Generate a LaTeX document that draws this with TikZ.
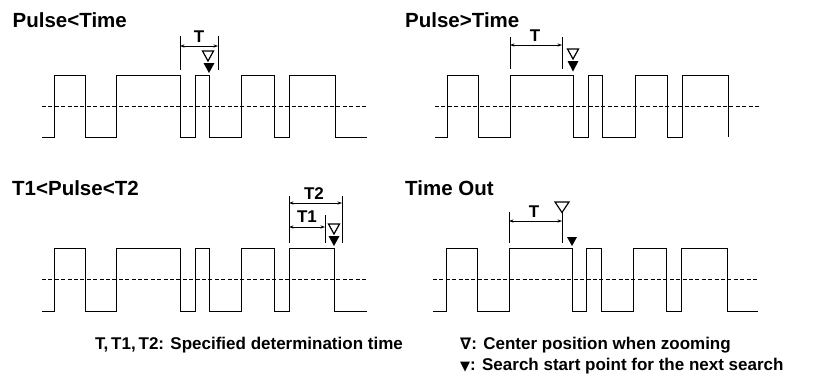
\documentclass[tikz,border=0pt]{standalone}
\usepackage{fontspec}
\setmainfont{Liberation Sans}
\newfontfamily\symfont{DejaVu Sans}
\usetikzlibrary{arrows.meta}
\begin{document}
\begin{tikzpicture}[x=1pt,y=-1pt,
  wave/.style={line width=1.0pt, line join=miter},
  thresh/.style={line width=0.9pt, dash pattern=on 4pt off 2.4pt},
  tickline/.style={line width=0.9pt},
  dim/.style={line width=0.8pt, {Stealth[length=4.5pt,width=3.2pt]}-{Stealth[length=4.5pt,width=3.2pt]}},
  hollowtri/.style={line width=1.2pt, fill=white, draw=black, line join=miter},
  filltri/.style={fill=black},
  title/.style={anchor=base west, inner sep=0pt, font=\fontsize{20.5}{24}\selectfont\bfseries},
  lab/.style={anchor=base, inner sep=0pt, font=\fontsize{17}{20}\selectfont\bfseries},
  legend/.style={anchor=base west, inner sep=0pt, font=\fontsize{17}{20}\selectfont\bfseries}
]
\path[use as bounding box] (0,0) rectangle (815,378);

% ---------- titles ----------
\node[title] (t1) at (12.5,27) {Pulse<Time};
\node[title] (t2) at (405,27) {Pulse>Time};
\node[title] (t3) at (12,195) {T1<Pulse<T2};
\node[title] (t4) at (405,195) {Time Out};

% ---------- panel 1 : Pulse<Time ----------
\draw[thresh] (42,106) -- (367,106);
\draw[wave] (42,137) -| (54,75) -| (85,137) -| (116,75) -| (180,137) -| (195,75)
  -| (209,137) -| (241,75) -| (274,137) -| (289,75) -| (335,137) -- (367,137);
\coordinate (a1) at (180,46);
\coordinate (b1) at (218,46);
\draw[tickline] (180,36) -- (180,70);
\draw[tickline] (218,36) -- (218,70);
\draw[dim] (a1) -- (b1);
\node[lab] (T1lab) at (199,42) {T};
\draw[hollowtri] (202.5,51) -- (213.5,51) -- (208,61) -- cycle;
\fill[filltri] (203.5,63) -- (214.5,63) -- (209,73) -- cycle;

% ---------- panel 2 : Pulse>Time ----------
\draw[thresh] (435,106) -- (759,106);
\draw[wave] (435,137) -| (447,75) -| (478,137) -| (510,75) -| (573,137) -| (588,75)
  -| (602,137) -| (635,75) -| (667,137) -| (682,75) -| (728,137);
\coordinate (a2) at (510,45);
\coordinate (b2) at (562,45);
\draw[tickline] (510,37) -- (510,69);
\draw[tickline] (562,37) -- (562,69);
\draw[dim] (a2) -- (b2);
\node[lab] (T2lab) at (535,41) {T};
\draw[hollowtri] (567.5,49) -- (578.5,49) -- (573,59) -- cycle;
\fill[filltri] (567.5,61) -- (578.5,61) -- (573,71.5) -- cycle;

% ---------- panel 3 : T1<Pulse<T2 ----------
\draw[thresh] (42,279) -- (367,279);
\draw[wave] (42,311) -| (54,248) -| (85,311) -| (116,248) -| (180,311) -| (195,248)
  -| (209,311) -| (241,248) -| (274,311) -| (289,248) -| (334,311) -- (367,311);
\coordinate (a3) at (289,203);
\coordinate (b3) at (342,203);
\coordinate (c3) at (289,227);
\coordinate (d3) at (325,227);
\draw[tickline] (289,196) -- (289,243);
\draw[tickline] (342,196) -- (342,243);
\draw[tickline] (325,215) -- (325,243);
\draw[dim] (a3) -- (b3);
\draw[dim] (c3) -- (d3);
\node[lab] (T3lab) at (314,199) {T2};
\node[lab] (T4lab) at (307,222) {T1};
\draw[hollowtri] (328.5,224) -- (339.5,224) -- (334,234) -- cycle;
\fill[filltri] (328.5,236) -- (339.5,236) -- (334,246) -- cycle;

% ---------- panel 4 : Time Out ----------
\draw[thresh] (433,279) -- (758,279);
\draw[wave] (433,311) -| (446,248) -| (477,311) -| (509,248) -| (572,311) -| (586,248)
  -| (601,311) -| (633,248) -| (666,311) -| (681,248) -| (727,311) -- (758,311);
\coordinate (a4) at (509,221);
\coordinate (b4) at (562,221);
\draw[tickline] (509,212) -- (509,243);
\draw[tickline] (562,212) -- (562,243);
\draw[dim] (a4) -- (b4);
\node[lab] (T5lab) at (534,217) {T};
\draw[hollowtri] (555,202) -- (569,202) -- (562,212.5) -- cycle;
\fill[filltri] (567,237) -- (577,237) -- (572,246) -- cycle;

% ---------- legend ----------
\node[legend] (l1) at (95,349) {T,\,T1,\,T2: Specified determination time};
\node[legend] (l2) at (460,349) {{\symfont\fontsize{16}{17}\selectfont ∇}: Center position when zooming};
\node[legend] (l3) at (460,370) {{\symfont\fontsize{13}{17}\selectfont ▼}: Search start point for the next search};
\end{tikzpicture}
\end{document}
